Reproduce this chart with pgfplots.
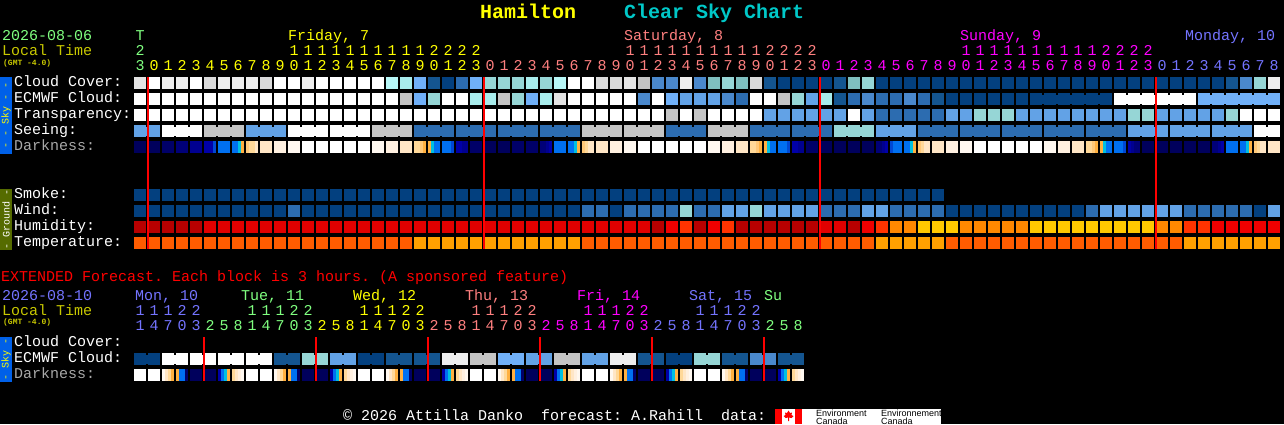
\documentclass[border=0pt]{standalone}
\usepackage{fontspec}
\usepackage{pgfplots}
\pgfplotsset{compat=1.18}
\newfontfamily\mono{Liberation Mono}
\newfontfamily\sans{Liberation Sans}
\definecolor{W}{HTML}{FFFFFF}\definecolor{La}{HTML}{EEEEEE}\definecolor{Lb}{HTML}{E4E4E4}\definecolor{Lc}{HTML}{DADADA}\definecolor{Gy}{HTML}{C4C4C4}
\definecolor{Ca}{HTML}{B8F8F8}\definecolor{Cb}{HTML}{A8ECEC}\definecolor{Cc}{HTML}{96D6D6}\definecolor{Cd}{HTML}{7FBFBF}
\definecolor{Ba}{HTML}{70B0F8}\definecolor{Bb}{HTML}{62A2E6}\definecolor{Bc}{HTML}{4A88CC}\definecolor{Bd}{HTML}{2C6CB0}\definecolor{Be}{HTML}{145590}\definecolor{Bf}{HTML}{03407F}
\definecolor{Na}{HTML}{00005C}\definecolor{Nb}{HTML}{000068}\definecolor{Nc}{HTML}{000078}\definecolor{Nd}{HTML}{000090}\definecolor{Ne}{HTML}{0000A8}\definecolor{Nf}{HTML}{0048D4}
\definecolor{Sk}{HTML}{0070F0}\definecolor{Cy}{HTML}{00C0E0}\definecolor{Or}{HTML}{FFB040}
\definecolor{Pa}{HTML}{FFC878}\definecolor{Pb}{HTML}{FFD898}\definecolor{Pc}{HTML}{FFE6C6}\definecolor{Pd}{HTML}{FFF0E0}\definecolor{Pe}{HTML}{FFF8F0}
\definecolor{Ha}{HTML}{B80000}\definecolor{Hb}{HTML}{E00000}\definecolor{Hc}{HTML}{F00000}\definecolor{Hd}{HTML}{FF3300}\definecolor{He}{HTML}{FF8800}\definecolor{Hf}{HTML}{FFC800}
\definecolor{Ta}{HTML}{FF5C00}\definecolor{Tb}{HTML}{FFA000}
\definecolor{tgreen}{HTML}{80FF80}\definecolor{tblue}{HTML}{7474FF}\definecolor{tsalmon}{HTML}{FF8080}\definecolor{tmag}{HTML}{FF00FF}\definecolor{tyellow}{HTML}{FFFF00}\definecolor{tlocal}{HTML}{C8C800}\definecolor{tcyan}{HTML}{00C8C8}\definecolor{tgray}{HTML}{A8A8A8}
\definecolor{tabsky}{HTML}{0060E8}\definecolor{tabground}{HTML}{556B00}
\pgfdeclareplotmark{cell}{\pgfpathrectangle{\pgfqpoint{-6pt}{-6pt}}{\pgfqpoint{12pt}{12pt}}\pgfusepathqfill}
\pgfdeclareplotmark{bridge}{\pgfpathrectangle{\pgfqpoint{-1.2pt}{-4.5pt}}{\pgfqpoint{2.4pt}{9pt}}\pgfusepathqfill}
\pgfdeclareplotmark{strip}{\pgfpathrectangle{\pgfqpoint{-1.6pt}{-6pt}}{\pgfqpoint{3.2pt}{12pt}}\pgfusepathqfill}
\pgfplotsset{
  c/.style={only marks,mark=cell,color=#1},
  b/.style={only marks,mark=bridge,color=#1},
  s/.style={only marks,mark=strip,color=#1},
}
\newcommand\T[4]{\node[anchor=base west,inner sep=0pt,text=#3,font=\mono\fontsize{15}{15}\selectfont] at (#1,#2) {#4};}
\newcommand\D[4]{\node[anchor=base,inner sep=0pt,text=#3,font=\mono\fontsize{15}{15}\selectfont] at (#1,#2) {#4};}
\newcommand\hourday[3]{% start col, colour, last hour
  \foreach \h in {0,...,#3}{
    \pgfmathtruncatemacro\xx{140+14*(#1+\h)}
    \pgfmathtruncatemacro\uu{mod(\h,10)}
    \pgfmathtruncatemacro\tt{floor(\h/10)}
    \D{\xx}{70}{#2}{\uu}
    \ifnum\h>9 \D{\xx}{55}{#2}{\tt}\fi
  }}
\newcommand\extday[3]{% start col, colour, hours
  \foreach \h [count=\n from 0] in {#3}{
    \pgfmathtruncatemacro\xx{140+14*(#1+\n)}
    \pgfmathtruncatemacro\uu{mod(\h,10)}
    \pgfmathtruncatemacro\tt{floor(\h/10)}
    \D{\xx}{330}{#2}{\uu}
    \ifnum\h>9 \D{\xx}{315}{#2}{\tt}\fi
  }}
\begin{document}
\frenchspacing
\begin{tikzpicture}
\begin{axis}[at={(0,0)},anchor=south west,width=1284pt,height=424pt,scale only axis,
  xmin=-10,xmax=81.7142857,ymin=-5.1875,ymax=21.3125,y dir=reverse,
  ticks=none,axis line style={draw=none,line width=0pt},axis background/.style={fill=black},clip=true,clip marker paths=true]
% Cloud Cover
\addplot[c=W] coordinates {(1,0)(4,0)(10,0)(11,0)(13,0)(14,0)(15,0)(16,0)(17,0)(31,0)(32,0)};
\addplot[c=La] coordinates {(2,0)(3,0)(6,0)(7,0)(8,0)(12,0)(39,0)(81,0)};
\addplot[c=Lb] coordinates {(0,0)(35,0)};
\addplot[c=Lc] coordinates {(5,0)(9,0)(33,0)(34,0)(44,0)};
\addplot[c=Gy] coordinates {(36,0)};
\addplot[c=Ca] coordinates {(18,0)(30,0)};
\addplot[c=Cb] coordinates {(19,0)(28,0)};
\addplot[c=Cc] coordinates {(25,0)(26,0)(27,0)(29,0)(42,0)(52,0)(80,0)};
\addplot[c=Cd] coordinates {(41,0)(43,0)(51,0)};
\addplot[c=Ba] coordinates {(20,0)(24,0)};
\addplot[c=Bc] coordinates {(37,0)(38,0)(40,0)(79,0)};
\addplot[c=Bd] coordinates {(23,0)};
\addplot[c=Be] coordinates {(21,0)(45,0)(50,0)(78,0)};
\addplot[c=Bf] coordinates {(22,0)(46,0)(47,0)(48,0)(49,0)(53,0)(54,0)(55,0)(56,0)(57,0)(58,0)(59,0)(60,0)(61,0)(62,0)(63,0)(64,0)(65,0)(66,0)(67,0)(68,0)(69,0)(70,0)(71,0)(72,0)(73,0)(74,0)(75,0)(76,0)(77,0)};
% ECMWF Cloud
\addplot[c=W] coordinates {(0,1)(1,1)(2,1)(3,1)(4,1)(5,1)(6,1)(7,1)(8,1)(9,1)(10,1)(11,1)(12,1)(13,1)(14,1)(15,1)(16,1)(17,1)(18,1)(22,1)(23,1)(31,1)(32,1)(33,1)(34,1)(35,1)(37,1)(44,1)(45,1)(70,1)(71,1)(72,1)(73,1)(74,1)(75,1)};
\addplot[c=Lb] coordinates {(30,1)};
\addplot[c=Gy] coordinates {(19,1)(26,1)(46,1)};
\addplot[c=Cb] coordinates {(24,1)(25,1)(29,1)(49,1)};
\addplot[c=Cc] coordinates {(21,1)(27,1)(47,1)};
\addplot[c=Ba] coordinates {(20,1)(28,1)(38,1)(76,1)(77,1)(78,1)(79,1)(80,1)(81,1)};
\addplot[c=Bb] coordinates {(39,1)(40,1)(41,1)(48,1)};
\addplot[c=Bc] coordinates {(36,1)(42,1)(52,1)(55,1)};
\addplot[c=Bd] coordinates {(43,1)(51,1)(53,1)(54,1)(56,1)};
\addplot[c=Be] coordinates {(50,1)(57,1)};
\addplot[c=Bf] coordinates {(58,1)(59,1)(60,1)(61,1)(62,1)(63,1)(64,1)(65,1)(66,1)(67,1)(68,1)(69,1)};
\addplot[b=Bf] coordinates {(64.5,1)(65.5,1)(66.5,1)(67.5,1)(68.5,1)};
\addplot[b=W] coordinates {(70.5,1)(71.5,1)(72.5,1)(73.5,1)(74.5,1)};
\addplot[b=Ba] coordinates {(76.5,1)(77.5,1)(78.5,1)(79.5,1)(80.5,1)};
% Transparency
\addplot[c=W] coordinates {(0,2)(1,2)(2,2)(3,2)(4,2)(5,2)(6,2)(7,2)(8,2)(9,2)(10,2)(11,2)(12,2)(13,2)(14,2)(15,2)(16,2)(17,2)(18,2)(19,2)(20,2)(21,2)(22,2)(23,2)(24,2)(25,2)(26,2)(27,2)(28,2)(29,2)(30,2)(31,2)(32,2)(33,2)(34,2)(35,2)(36,2)(37,2)(39,2)(41,2)(42,2)(43,2)(44,2)(51,2)(79,2)(80,2)(81,2)};
\addplot[c=Gy] coordinates {(38,2)(40,2)};
\addplot[c=Bb] coordinates {(45,2)(46,2)(47,2)(48,2)(49,2)(50,2)(52,2)(58,2)(59,2)(63,2)(64,2)(65,2)(66,2)(67,2)(68,2)(69,2)(70,2)(73,2)(74,2)(75,2)(76,2)(77,2)};
\addplot[c=Bd] coordinates {(53,2)(54,2)(55,2)(56,2)(57,2)};
\addplot[c=Cc] coordinates {(60,2)(61,2)(62,2)(71,2)(72,2)(78,2)};
% Seeing
\addplot[c=Bb] coordinates {(0,3)(1,3)(8,3)(9,3)(10,3)(53,3)(54,3)(55,3)(71,3)(72,3)(73,3)(74,3)(75,3)(76,3)(77,3)(78,3)(79,3)};
\addplot[c=W] coordinates {(2,3)(3,3)(4,3)(11,3)(12,3)(13,3)(14,3)(15,3)(16,3)(80,3)(81,3)};
\addplot[c=Gy] coordinates {(5,3)(6,3)(7,3)(17,3)(18,3)(19,3)(32,3)(33,3)(34,3)(35,3)(36,3)(37,3)(41,3)(42,3)(43,3)};
\addplot[c=Bd] coordinates {(20,3)(21,3)(22,3)(23,3)(24,3)(25,3)(26,3)(27,3)(28,3)(29,3)(30,3)(31,3)(38,3)(39,3)(40,3)(44,3)(45,3)(46,3)(47,3)(48,3)(49,3)(56,3)(57,3)(58,3)(59,3)(60,3)(61,3)(62,3)(63,3)(64,3)(65,3)(66,3)(67,3)(68,3)(69,3)(70,3)};
\addplot[c=Cc] coordinates {(50,3)(51,3)(52,3)};
\addplot[b=Bb] coordinates {(0.5,3)(8.5,3)(9.5,3)(53.5,3)(54.5,3)(71.5,3)(72.5,3)(74.5,3)(75.5,3)(77.5,3)(78.5,3)};
\addplot[b=W] coordinates {(2.5,3)(3.5,3)(11.5,3)(12.5,3)(14.5,3)(15.5,3)(80.5,3)};
\addplot[b=Gy] coordinates {(5.5,3)(6.5,3)(17.5,3)(18.5,3)(32.5,3)(33.5,3)(35.5,3)(36.5,3)(41.5,3)(42.5,3)};
\addplot[b=Bd] coordinates {(20.5,3)(21.5,3)(23.5,3)(24.5,3)(26.5,3)(27.5,3)(29.5,3)(30.5,3)(38.5,3)(39.5,3)(44.5,3)(45.5,3)(47.5,3)(48.5,3)(56.5,3)(57.5,3)(59.5,3)(60.5,3)(62.5,3)(63.5,3)(65.5,3)(66.5,3)(68.5,3)(69.5,3)};
\addplot[b=Cc] coordinates {(50.5,3)(51.5,3)};
% Darkness
\addplot[c=Na] coordinates {(0,4)(1,4)(25,4)(26,4)(49,4)(50,4)(51,4)(52,4)(72,4)(73,4)(74,4)(75,4)(76,4)};
\addplot[c=Nb] coordinates {(2,4)(24,4)(27,4)(28,4)(48,4)};
\addplot[c=Nc] coordinates {(3,4)};
\addplot[c=Nd] coordinates {(4,4)};
\addplot[c=Sk] coordinates {(6,4)(30,4)(78,4)};
\addplot[c=Pc] coordinates {(9,4)(19,4)(33,4)(43,4)(57,4)(67,4)(81,4)};
\addplot[c=Pd] coordinates {(10,4)(18,4)(34,4)(42,4)(58,4)(66,4)};
\addplot[c=Pe] coordinates {(11,4)(17,4)(35,4)(41,4)(59,4)(65,4)};
\addplot[c=W] coordinates {(12,4)(13,4)(14,4)(15,4)(16,4)(36,4)(37,4)(38,4)(39,4)(40,4)(60,4)(61,4)(62,4)(63,4)(64,4)};
\addplot[s=Ne] coordinates {(4.679,4)(4.893,4)(5.107,4)(22.679,4)(22.893,4)(29.321,4)(46.679,4)(46.893,4)(53.321,4)(70.679,4)(77.321,4)};
\addplot[s=Nf] coordinates {(5.321,4)(22.321,4)(46.321,4)(53.679,4)(70.321,4)};
\addplot[s=Nd] coordinates {(23.107,4)(23.321,4)(29.107,4)(47.107,4)(47.321,4)(53.107,4)(70.893,4)(77.107,4)};
\addplot[s=Nc] coordinates {(28.679,4)(28.893,4)(52.679,4)(52.893,4)(71.107,4)(71.321,4)(76.679,4)(76.893,4)};
\addplot[s=Sk] coordinates {(6.679,4)(6.893,4)(21.107,4)(21.321,4)(21.679,4)(21.893,4)(22.107,4)(30.679,4)(30.893,4)(45.107,4)(45.321,4)(45.679,4)(45.893,4)(46.107,4)(53.893,4)(54.107,4)(54.321,4)(54.679,4)(54.893,4)(69.107,4)(69.321,4)(69.679,4)(69.893,4)(70.107,4)(78.679,4)(78.893,4)};
\addplot[s=Cy] coordinates {(7.107,4)(20.893,4)(31.107,4)(44.893,4)(55.107,4)(68.893,4)(79.107,4)};
\addplot[s=Or] coordinates {(7.321,4)(20.321,4)(20.679,4)(31.321,4)(44.321,4)(44.679,4)(55.321,4)(68.321,4)(68.679,4)(79.321,4)};
\addplot[s=Pa] coordinates {(7.679,4)(20.107,4)(31.679,4)(44.107,4)(55.679,4)(68.107,4)(79.679,4)};
\addplot[s=Pb] coordinates {(7.893,4)(8.107,4)(19.679,4)(19.893,4)(31.893,4)(43.679,4)(43.893,4)(55.893,4)(67.679,4)(67.893,4)(79.893,4)};
\addplot[s=Pc] coordinates {(8.321,4)(32.107,4)(32.321,4)(56.107,4)(56.321,4)(80.107,4)(80.321,4)};
% Smoke
\addplot[c=Bf] coordinates {(0,7)(1,7)(2,7)(3,7)(4,7)(5,7)(6,7)(7,7)(8,7)(9,7)(10,7)(11,7)(12,7)(13,7)(14,7)(15,7)(16,7)(17,7)(18,7)(19,7)(20,7)(21,7)(22,7)(23,7)(24,7)(25,7)(26,7)(27,7)(28,7)(29,7)(30,7)(31,7)(32,7)(33,7)(34,7)(35,7)(36,7)(37,7)(38,7)(39,7)(40,7)(41,7)(42,7)(43,7)(44,7)(45,7)(46,7)(47,7)(48,7)(49,7)(50,7)(51,7)(52,7)(53,7)(54,7)(55,7)(56,7)(57,7)};
% Wind
\addplot[c=Bf] coordinates {(0,8)(1,8)(2,8)(3,8)(4,8)(5,8)(6,8)(7,8)(8,8)(9,8)(10,8)(12,8)(13,8)(14,8)(15,8)(16,8)(17,8)(18,8)(19,8)(20,8)(21,8)(22,8)(23,8)(24,8)(25,8)(26,8)(27,8)(28,8)(29,8)(30,8)(31,8)(34,8)(58,8)(59,8)(60,8)(61,8)(62,8)(63,8)(64,8)(65,8)(66,8)(67,8)(80,8)};
\addplot[c=Bd] coordinates {(11,8)(32,8)(33,8)(35,8)(36,8)(37,8)(38,8)(40,8)(41,8)(49,8)(50,8)(51,8)(54,8)(55,8)(56,8)(57,8)(68,8)(75,8)(76,8)(77,8)(78,8)(79,8)};
\addplot[c=Cc] coordinates {(39,8)(44,8)};
\addplot[c=Bb] coordinates {(42,8)(43,8)(45,8)(46,8)(47,8)(48,8)(52,8)(53,8)(69,8)(70,8)(71,8)(72,8)(73,8)(74,8)(81,8)};
% Humidity
\addplot[c=Ha] coordinates {(0,9)(1,9)(2,9)(3,9)(4,9)(37,9)(40,9)(43,9)(44,9)(45,9)(46,9)(47,9)(48,9)(51,9)};
\addplot[c=Hb] coordinates {(5,9)(6,9)(7,9)(8,9)(9,9)(10,9)(11,9)(12,9)(13,9)(14,9)(15,9)(16,9)(17,9)(18,9)(19,9)(20,9)(21,9)(22,9)(23,9)(24,9)(25,9)(26,9)(27,9)(28,9)(29,9)(30,9)(31,9)(32,9)(33,9)(34,9)(35,9)(36,9)(49,9)(50,9)};
\addplot[c=Hc] coordinates {(38,9)(41,9)(52,9)(77,9)(78,9)(79,9)(80,9)(81,9)};
\addplot[c=Hd] coordinates {(39,9)(42,9)(53,9)(75,9)(76,9)};
\addplot[c=He] coordinates {(54,9)(55,9)(59,9)(60,9)(61,9)(62,9)(63,9)(73,9)(74,9)};
\addplot[c=Hf] coordinates {(56,9)(57,9)(58,9)(64,9)(65,9)(66,9)(67,9)(68,9)(69,9)(70,9)(71,9)(72,9)};
% Temperature
\addplot[c=Ta] coordinates {(0,10)(1,10)(2,10)(3,10)(4,10)(5,10)(6,10)(7,10)(8,10)(9,10)(10,10)(11,10)(12,10)(13,10)(14,10)(15,10)(16,10)(17,10)(18,10)(19,10)(32,10)(33,10)(34,10)(35,10)(36,10)(37,10)(38,10)(39,10)(40,10)(41,10)(42,10)(43,10)(44,10)(45,10)(46,10)(47,10)(48,10)(49,10)(50,10)(51,10)(52,10)(58,10)(59,10)(60,10)(61,10)(62,10)(63,10)(64,10)(65,10)(66,10)(67,10)(68,10)(69,10)(70,10)(71,10)(72,10)(73,10)(74,10)};
\addplot[c=Tb] coordinates {(20,10)(21,10)(22,10)(23,10)(24,10)(25,10)(26,10)(27,10)(28,10)(29,10)(30,10)(31,10)(53,10)(54,10)(55,10)(56,10)(57,10)(75,10)(76,10)(77,10)(78,10)(79,10)(80,10)(81,10)};
% Extended ECMWF Cloud
\addplot[c=Bf] coordinates {(0,17.25)(1,17.25)(16,17.25)(17,17.25)(38,17.25)(39,17.25)};
\addplot[b=Bf] coordinates {(0.5,17.25)(16.5,17.25)(38.5,17.25)};
\addplot[c=W] coordinates {(2,17.25)(3,17.25)(4,17.25)(5,17.25)(6,17.25)(7,17.25)(8,17.25)(9,17.25)};
\addplot[b=W] coordinates {(2.5,17.25)(4.5,17.25)(6.5,17.25)(8.5,17.25)};
\addplot[c=Be] coordinates {(10,17.25)(11,17.25)(18,17.25)(19,17.25)(20,17.25)(21,17.25)(36,17.25)(37,17.25)(42,17.25)(43,17.25)(46,17.25)(47,17.25)};
\addplot[b=Be] coordinates {(10.5,17.25)(18.5,17.25)(20.5,17.25)(36.5,17.25)(42.5,17.25)(46.5,17.25)};
\addplot[c=Cc] coordinates {(12,17.25)(13,17.25)(40,17.25)(41,17.25)};
\addplot[b=Cc] coordinates {(12.5,17.25)(40.5,17.25)};
\addplot[c=Bb] coordinates {(14,17.25)(15,17.25)(28,17.25)(29,17.25)(32,17.25)(33,17.25)};
\addplot[b=Bb] coordinates {(14.5,17.25)(28.5,17.25)(32.5,17.25)};
\addplot[c=La] coordinates {(22,17.25)(23,17.25)(34,17.25)(35,17.25)};
\addplot[b=La] coordinates {(22.5,17.25)(34.5,17.25)};
\addplot[c=Gy] coordinates {(24,17.25)(25,17.25)(30,17.25)(31,17.25)};
\addplot[b=Gy] coordinates {(24.5,17.25)(30.5,17.25)};
\addplot[c=Ba] coordinates {(26,17.25)(27,17.25)};
\addplot[b=Ba] coordinates {(26.5,17.25)};
\addplot[c=Bc] coordinates {(44,17.25)(45,17.25)};
\addplot[b=Bc] coordinates {(44.5,17.25)};
% Extended Darkness
\addplot[c=W] coordinates {(0,18.25)(1,18.25)(8,18.25)(9,18.25)(16,18.25)(17,18.25)(24,18.25)(25,18.25)(32,18.25)(33,18.25)(40,18.25)(41,18.25)};
\addplot[c=Na] coordinates {(4,18.25)(5,18.25)(12,18.25)(13,18.25)(20,18.25)(21,18.25)(28,18.25)(29,18.25)(36,18.25)(37,18.25)(44,18.25)(45,18.25)};
\addplot[s=Pe] coordinates {(1.679,18.25)(9.679,18.25)(17.679,18.25)(25.679,18.25)(33.679,18.25)(41.679,18.25)(7.321,18.25)(15.321,18.25)(23.321,18.25)(31.321,18.25)(39.321,18.25)(47.321,18.25)};
\addplot[s=Pc] coordinates {(1.893,18.25)(9.893,18.25)(17.893,18.25)(25.893,18.25)(33.893,18.25)(41.893,18.25)(6.893,18.25)(14.893,18.25)(22.893,18.25)(30.893,18.25)(38.893,18.25)(46.893,18.25)};
\addplot[s=Pb] coordinates {(2.107,18.25)(10.107,18.25)(18.107,18.25)(26.107,18.25)(34.107,18.25)(42.107,18.25)(6.679,18.25)(14.679,18.25)(22.679,18.25)(30.679,18.25)(38.679,18.25)(46.679,18.25)};
\addplot[s=Or] coordinates {(2.321,18.25)(10.321,18.25)(18.321,18.25)(26.321,18.25)(34.321,18.25)(42.321,18.25)(2.679,18.25)(10.679,18.25)(18.679,18.25)(26.679,18.25)(34.679,18.25)(42.679,18.25)(6.321,18.25)(14.321,18.25)(22.321,18.25)(30.321,18.25)(38.321,18.25)(46.321,18.25)};
\addplot[s=Sk] coordinates {(2.893,18.25)(3.107,18.25)(10.893,18.25)(11.107,18.25)(18.893,18.25)(19.107,18.25)(26.893,18.25)(27.107,18.25)(34.893,18.25)(35.107,18.25)(42.893,18.25)(43.107,18.25)(5.893,18.25)(13.893,18.25)(21.893,18.25)(29.893,18.25)(37.893,18.25)(45.893,18.25)};
\addplot[s=Nb] coordinates {(3.321,18.25)(11.321,18.25)(19.321,18.25)(27.321,18.25)(35.321,18.25)(43.321,18.25)};
\addplot[s=Ne] coordinates {(5.679,18.25)(13.679,18.25)(21.679,18.25)(29.679,18.25)(37.679,18.25)(45.679,18.25)};
\addplot[s=Cy] coordinates {(6.107,18.25)(14.107,18.25)(22.107,18.25)(30.107,18.25)(38.107,18.25)(46.107,18.25)};
\addplot[s=Pd] coordinates {(7.107,18.25)(15.107,18.25)(23.107,18.25)(31.107,18.25)(39.107,18.25)(47.107,18.25)};
% Red lines at midnight
\addplot[red,line width=2pt,no marks] coordinates {(0.5714,-0.375)(0.5714,10.39)};
\addplot[red,line width=2pt,no marks] coordinates {(24.5714,-0.375)(24.5714,10.39)};
\addplot[red,line width=2pt,no marks] coordinates {(48.5714,-0.375)(48.5714,10.39)};
\addplot[red,line width=2pt,no marks] coordinates {(72.5714,-0.375)(72.5714,10.39)};
\addplot[red,line width=2pt,no marks] coordinates {(4.5714,15.875)(4.5714,18.625)};
\addplot[red,line width=2pt,no marks] coordinates {(12.5714,15.875)(12.5714,18.625)};
\addplot[red,line width=2pt,no marks] coordinates {(20.5714,15.875)(20.5714,18.625)};
\addplot[red,line width=2pt,no marks] coordinates {(28.5714,15.875)(28.5714,18.625)};
\addplot[red,line width=2pt,no marks] coordinates {(36.5714,15.875)(36.5714,18.625)};
\addplot[red,line width=2pt,no marks] coordinates {(44.5714,15.875)(44.5714,18.625)};
\end{axis}
\begin{scope}[x=1pt,y=-1pt,yshift=424pt]
% title
\node[anchor=base west,inner sep=0pt,text=tyellow,font=\mono\bfseries\fontsize{20}{20}\selectfont] at (480,18.5) {Hamilton};
\node[anchor=base west,inner sep=0pt,text=tcyan,font=\mono\bfseries\fontsize{20}{20}\selectfont] at (624,18.5) {Clear Sky Chart};
% header
\T{2}{40}{tgreen}{2026-08-06}
\T{2}{55}{tlocal}{Local Time}
\node[anchor=base west,inner sep=0pt,text=tlocal,font=\mono\bfseries\fontsize{8}{8}\selectfont] at (3,65) {(GMT -4.0)};
\D{140}{40}{tgreen}{T}
\D{140}{55}{tgreen}{2}
\D{140}{70}{tgreen}{3}
\T{288}{40}{tyellow}{Friday, 7}
\T{624}{40}{tsalmon}{Saturday, 8}
\T{960}{40}{tmag}{Sunday, 9}
\T{1185}{40}{tblue}{Monday, 10}
\hourday{1}{tyellow}{23}
\hourday{25}{tsalmon}{23}
\hourday{49}{tmag}{23}
\hourday{73}{tblue}{8}
% row labels
\T{14}{86}{white}{Cloud Cover:}
\T{14}{102}{white}{ECMWF Cloud:}
\T{14}{118}{white}{Transparency:}
\T{14}{134}{white}{Seeing:}
\T{14}{150}{tgray}{Darkness:}
\T{14}{198}{white}{Smoke:}
\T{14}{214}{white}{Wind:}
\T{14}{230}{white}{Humidity:}
\T{14}{246}{white}{Temperature:}
% side tabs
\fill[tabsky] (0,77) rectangle (12,154);
\fill[tabground] (0,189) rectangle (12,250);
\fill[tabsky] (0,337) rectangle (12,382);
\node[rotate=90,inner sep=0pt,text=tyellow,font=\mono\fontsize{10}{10}\selectfont] at (6,115) {- - Sky - -};
\node[rotate=90,inner sep=0pt,text=white,font=\mono\fontsize{10}{10}\selectfont] at (6,219.5) {- Ground -};
\node[rotate=90,inner sep=0pt,text=tyellow,font=\mono\fontsize{10}{10}\selectfont] at (6,359.5) {- Sky -};
% extended
\T{1}{281}{red}{EXTENDED Forecast. Each block is 3 hours. (A sponsored feature)}
\T{2}{300}{tblue}{2026-08-10}
\T{2}{315}{tlocal}{Local Time}
\node[anchor=base west,inner sep=0pt,text=tlocal,font=\mono\bfseries\fontsize{8}{8}\selectfont] at (3,324) {(GMT -4.0)};
\T{135}{300}{tblue}{Mon, 10}
\T{241}{300}{tgreen}{Tue, 11}
\T{353}{300}{tyellow}{Wed, 12}
\T{465}{300}{tsalmon}{Thu, 13}
\T{577}{300}{tmag}{Fri, 14}
\T{689}{300}{tblue}{Sat, 15}
\T{764}{300}{tgreen}{Su}
\extday{0}{tblue}{11,14,17,20,23}
\extday{5}{tgreen}{2,5,8,11,14,17,20,23}
\extday{13}{tyellow}{2,5,8,11,14,17,20,23}
\extday{21}{tsalmon}{2,5,8,11,14,17,20,23}
\extday{29}{tmag}{2,5,8,11,14,17,20,23}
\extday{37}{tblue}{2,5,8,11,14,17,20,23}
\extday{45}{tgreen}{2,5,8}
\T{14}{346}{white}{Cloud Cover:}
\T{14}{362}{white}{ECMWF Cloud:}
\T{14}{378}{tgray}{Darkness:}
% footer
\T{343}{420}{white}{© 2026 Attilla Danko}
\T{541}{420}{white}{forecast: A.Rahill}
\T{721}{420}{white}{data:}
\fill[white] (775,409) rectangle (941,424);
\fill[red] (775,409) rectangle (782,424);
\fill[red] (795,409) rectangle (802,424);
\fill[red] (788.5,410.5)--(790,413)--(792,412.5)--(791.5,415)--(793.5,416)--(791.5,418)--(789,417.5)--(789,421)--(788,421)--(788,417.5)--(785.5,418)--(783.5,416)--(785.5,415)--(785,412.5)--(787,413)--cycle;
\node[anchor=base west,inner sep=0pt,text=black,font=\sans\fontsize{9}{9}\selectfont] at (816,416) {Environment};
\node[anchor=base west,inner sep=0pt,text=black,font=\sans\fontsize{9}{9}\selectfont] at (816,424) {Canada};
\node[anchor=base west,inner sep=0pt,text=black,font=\sans\fontsize{9}{9}\selectfont] at (881,416) {Environnement};
\node[anchor=base west,inner sep=0pt,text=black,font=\sans\fontsize{9}{9}\selectfont] at (881,424) {Canada};
\end{scope}
\end{tikzpicture}
\end{document}
